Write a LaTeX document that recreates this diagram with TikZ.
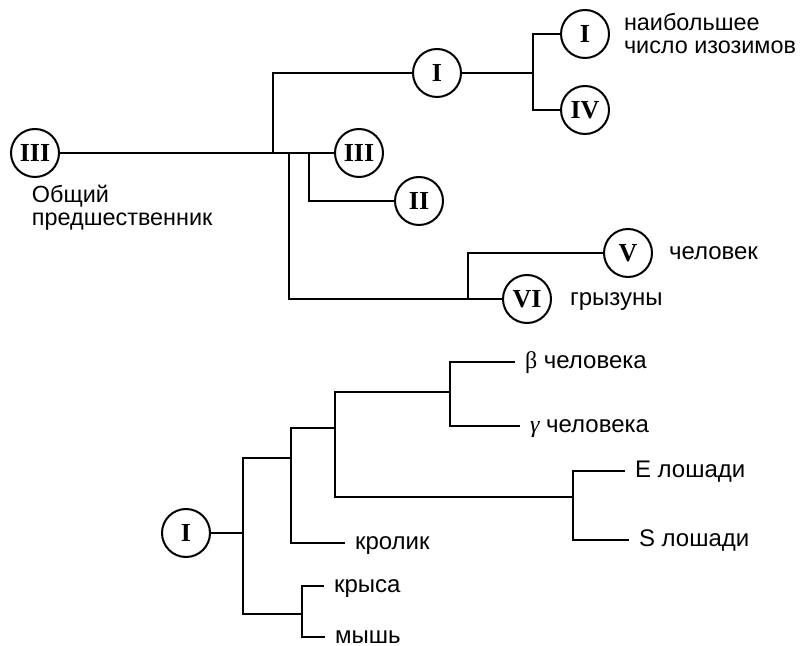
\documentclass[tikz,border=0pt]{standalone}
\usepackage{fontspec}
\setmainfont{Liberation Serif}
\setsansfont{Liberation Sans}
\usetikzlibrary{positioning}

\begin{document}
\begin{tikzpicture}[
    x=0.5pt, y=-0.5pt, line width=1pt,
    isozyme/.style={circle, draw, line width=1pt, minimum size=24pt, inner sep=0pt,
                    font=\rmfamily\bfseries\fontsize{13}{13}\selectfont},
    leaf/.style={anchor=west, inner ysep=0pt, inner xsep=4.5pt,
                 text height=6.2pt, text depth=0pt,
                 font=\sffamily\fontsize{12}{12}\selectfont},
    note/.style={align=left, inner sep=0pt, font=\sffamily\fontsize{11.7}{11.5}\selectfont},
]
\useasboundingbox (0,0) rectangle (808,646);

\node[isozyme] (anc) at (35,153) {III};
\node[note, anchor=north west] (lanc) at (31,184) {Общий\\предшественник};
\node[isozyme] (c1) at (437,73) {I};
\node[isozyme] (c1a) at (585,34) {I};
\node[isozyme] (c4) at (585,110) {IV};
\node[isozyme] (c3) at (359,153) {III};
\node[isozyme] (c2) at (419,201) {II};
\node[isozyme] (c5) at (628,253) {V};
\node[isozyme] (c6) at (527,299) {VI};
\node[note, anchor=west, right=6.5pt of c1a] (lmax) {наибольшее\\число изозимов};
\node[leaf, right=3pt of c5] (lman) {человек};
\node[leaf, right=4pt of c6] (lrod) {грызуны};

\coordinate (j1) at (273,153);
\coordinate (j2) at (289,153);
\coordinate (j4) at (309,153);
\coordinate (j3) at (468,299);
\coordinate (j5) at (533,73);

\draw (anc) -- (c3);
\draw (j1) |- (c1);
\draw (c1) -- (j5);
\draw (j5) |- (c1a);
\draw (j5) |- (c4);
\draw (j4) |- (c2);
\draw (j2) |- (c6);
\draw (j3) |- (c5);

% lower tree
\node[isozyme] (b1) at (186,533) {I};
\node[leaf] (lbeta) at (515,362) {{\rmfamily β} человека};
\node[leaf] (lgamma) at (520,426) {{\rmfamily\itshape γ} человека};
\node[leaf] (lhE) at (625,471) {E лошади};
\node[leaf] (lhS) at (629,540) {S лошади};
\node[leaf] (lrab) at (345,543) {кролик};
\node[leaf] (lrat) at (324,586) {крыса};
\node[leaf] (lmouse) at (325,637) {мышь};

\coordinate (ka) at (243,533);
\coordinate (kb) at (291,458);
\coordinate (kc) at (335,428);
\coordinate (kd) at (450,392);
\coordinate (ke) at (573,497);
\coordinate (kf) at (302,614);

\draw (b1) -- (ka);
\draw (ka) |- (kb);
\draw (ka) |- (kf);
\draw (kb) |- (kc);
\draw (kb) |- (lrab.west);
\draw (kc) |- (kd);
\draw (kc) |- (ke);
\draw (kd) |- (lbeta.west);
\draw (kd) |- (lgamma.west);
\draw (ke) |- (lhE.west);
\draw (ke) |- (lhS.west);
\draw (kf) |- (lrat.west);
\draw (kf) |- (lmouse.west);

\end{tikzpicture}
\end{document}
